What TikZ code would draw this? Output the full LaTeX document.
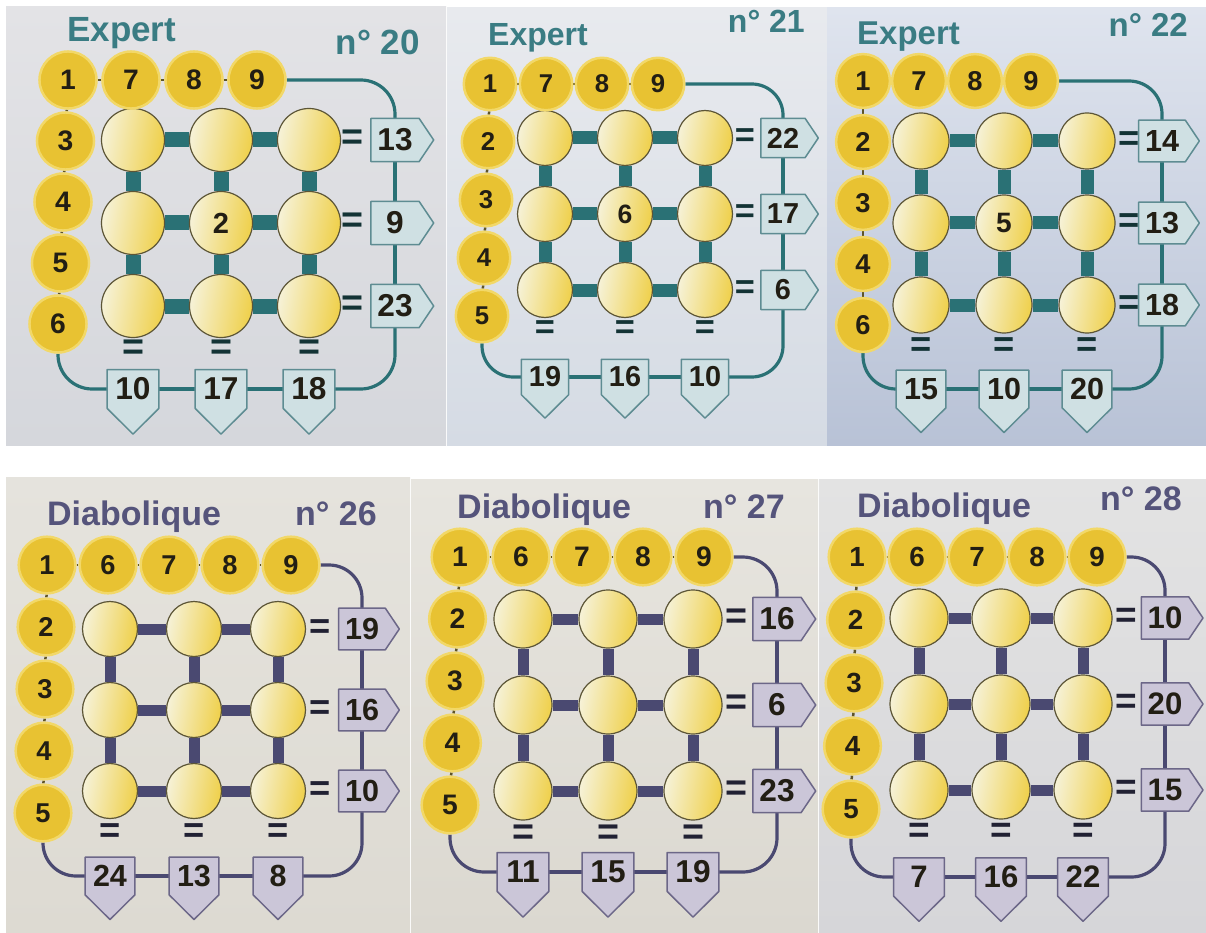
\documentclass[tikz,border=0pt]{standalone}
\usepackage{fontspec}
\setmainfont{Liberation Sans}
\usetikzlibrary{calc}
\pgfdeclarelayer{bgl}
\pgfdeclarelayer{back}
\pgfdeclarelayer{mid}
\pgfsetlayers{bgl,back,mid,main}

\definecolor{exdark}{HTML}{2A7175}
\definecolor{extitle}{HTML}{3A7C83}
\definecolor{exboxf}{HTML}{CFE0E3}
\definecolor{exboxd}{HTML}{5E8C92}
\definecolor{didark}{HTML}{4A4971}
\definecolor{dititle}{HTML}{55547B}
\definecolor{diboxf}{HTML}{CBC6D8}
\definecolor{diboxd}{HTML}{6C6788}
\definecolor{gridpale}{HTML}{F6F2D8}
\definecolor{gridyel}{HTML}{EFD04A}
\definecolor{gridedge}{HTML}{5C5536}
\definecolor{goldc}{HTML}{E8C232}
\definecolor{goldrim}{HTML}{F2D868}
\definecolor{numtxt}{HTML}{221E14}
\definecolor{linkc}{HTML}{5E5428}
\definecolor{bgAa}{HTML}{E3E3E6}\definecolor{bgAb}{HTML}{D5D7DC}
\definecolor{bgBa}{HTML}{E8EAEE}\definecolor{bgBb}{HTML}{D5DBE4}
\definecolor{bgCa}{HTML}{DFE4EE}\definecolor{bgCb}{HTML}{B8C2D6}
\definecolor{bgDa}{HTML}{E5E3DD}\definecolor{bgDb}{HTML}{DDDAD2}
\definecolor{bgEa}{HTML}{E7E5DF}\definecolor{bgEb}{HTML}{DBD8D0}
\definecolor{bgFa}{HTML}{E3E3E3}\definecolor{bgFb}{HTML}{D6D6D9}

\def\pzdef#1{\expandafter\pzdefi\csname pz#1\endcsname{#1}}
\def\pzdefi#1#2{\pgfkeys{/pz/#2/.store in=#1}}
\pzdef{id}\pzdef{xa}\pzdef{ya}\pzdef{xb}\pzdef{yb}\pzdef{bgA}\pzdef{bgB}
\pzdef{dark}\pzdef{tc}\pzdef{boxf}\pzdef{boxd}\pzdef{title}\pzdef{num}
\pzdef{tx}\pzdef{ty}\pzdef{nx}\pzdef{ny}\pzdef{tfs}\pzdef{cx}\pzdef{cy}
\pzdef{gx}\pzdef{gy}\pzdef{gr}\pzdef{ox}\pzdef{oy}\pzdef{dx}\pzdef{dy}
\pzdef{top}\pzdef{left}\pzdef{right}\pzdef{bottom}\pzdef{rbx}\pzdef{bby}
\pzdef{center}\pzdef{barw}\pzdef{ls}

\tikzset{
 gridc/.style={circle, draw=gridedge, line width=1.2pt, left color=gridpale, right color=gridyel, shading angle=80, inner sep=0pt},
 numc/.style={circle, fill=goldc, draw=goldrim, line width=2.5pt, inner sep=0pt, text=numtxt},
 numt/.style={inner sep=0pt, text=numtxt},
 boxn/.style={rectangle, inner sep=0pt, text=numtxt},
 eqs/.style={inner sep=0pt},
 gbar/.style={line cap=butt},
 dotlink/.style={draw=linkc, line width=2.5pt},
 loopline/.style={line width=3.2pt},
 titlef/.style={inner sep=0pt, font=\bfseries\fontsize{\pztfs}{\pztfs}\selectfont},
}

\newcommand\drawpuzzle[1]{%
\begin{scope}
\pgfqkeys{/pz}{ls=0,#1}%
\pgfmathsetmacro\pzS{(\pzgx+\pzgy)/2}%
\pgfmathsetmacro\pzFA{0.33*\pzS}%
\pgfmathsetmacro\pzFB{0.37*\pzS}%
\pgfmathsetmacro\pzFC{0.34*\pzS}%
\pgfmathsetmacro\pzFE{0.44*\pzS}%
\pgfmathsetmacro\pzSD{0.92*(\pzdx+\pzdy)/2}%
\pgfmathsetmacro\pzGD{2*\pzgr}%
\pgfmathsetmacro\pzRW{0.56*\pzS}%
\pgfmathsetmacro\pzRH{0.5*\pzS}%
\pgfmathsetmacro\pzRT{0.17*\pzS}%
\pgfmathsetmacro\pzBW{0.6*\pzS}%
\pgfmathsetmacro\pzBH{0.45*\pzS}%
\pgfmathsetmacro\pzBT{0.3*\pzS}%
\pgfmathsetmacro\pzEQ{0.51*\pzS}%
\pgfmathsetmacro\pzRC{0.4*\pzS}%
% background
\begin{pgfonlayer}{bgl}
 \shade[top color=\pzbgA, bottom color=\pzbgB] (\pzxa,\pzya) rectangle (\pzxb,\pzyb);
\end{pgfonlayer}
% titles
\node[titlef, text=\pztc, anchor=base west] (\pzid title) at (\pztx,\pzty) {\pztitle};
\node[titlef, text=\pztc, anchor=base east] (\pzid no) at (\pznx,\pzny) {\pznum};
% grid
\foreach \i in {1,2,3}{\foreach \j in {1,2,3}{%
 \node[gridc, minimum size=\pzGD pt] (\pzid g\i\j) at ({\pzcx+(\j-2)*\pzgx},{\pzcy+(\i-2)*\pzgy}) {};}}
\node[numt, font=\bfseries\fontsize{\pzFC}{\pzFC}\selectfont] (\pzid c) at (\pzid g22) {\pzcenter};
% number circles
\foreach \v [count=\k] in \pztop {%
 \node[numc, minimum size=\pzSD pt, font=\bfseries\fontsize{\pzFA}{\pzFA}\selectfont] (\pzid t\k) at ({\pzox+(\k-1)*\pzdx},\pzoy) {\v};
 \xdef\pzNT{\k}}
\foreach \v [count=\k] in \pzleft {%
 \node[numc, minimum size=\pzSD pt, font=\bfseries\fontsize{\pzFA}{\pzFA}\selectfont] (\pzid l\k) at ({\pzox+\k*\pzls},{\pzoy+\k*\pzdy}) {\v};}
% boxes and equal signs
\foreach \v [count=\k] in \pzright {%
 \node[boxn, minimum width=\pzRW pt, minimum height=\pzRH pt, font=\bfseries\fontsize{\pzFB}{\pzFB}\selectfont] (\pzid r\k) at (\pzrbx,{\pzcy+(\k-2)*\pzgy}) {\v};
 \node[eqs, text=\pzdark!45!black, font=\bfseries\fontsize{\pzFE}{\pzFE}\selectfont] (\pzid re\k) at ({\pzcx+\pzgx+\pzEQ},{\pzcy+(\k-2)*\pzgy}) {=};}
\foreach \v [count=\k] in \pzbottom {%
 \node[boxn, minimum width=\pzBW pt, minimum height=\pzBH pt, font=\bfseries\fontsize{\pzFB}{\pzFB}\selectfont] (\pzid b\k) at ({\pzcx+(\k-2)*\pzgx},\pzbby) {\v};
 \node[eqs, text=\pzdark!45!black, font=\bfseries\fontsize{\pzFE}{\pzFE}\selectfont] (\pzid be\k) at ({\pzcx+(\k-2)*\pzgx},{\pzcy+\pzgy+\pzEQ}) {=};}
% pentagon outlines
\begin{pgfonlayer}{mid}
 \foreach \k in {1,2,3}{%
  \filldraw[fill=\pzboxf, draw=\pzboxd, line width=1.5pt, line join=round] (\pzid r\k.north west) -- (\pzid r\k.north east) -- ([xshift=\pzRT pt]\pzid r\k.east) -- (\pzid r\k.south east) -- (\pzid r\k.south west) -- cycle;
  \filldraw[fill=\pzboxf, draw=\pzboxd, line width=1.5pt, line join=round] (\pzid b\k.north west) -- (\pzid b\k.north east) -- (\pzid b\k.south east) -- ([yshift=-\pzBT pt]\pzid b\k.south) -- (\pzid b\k.south west) -- cycle;}
\end{pgfonlayer}
% connectors
\pgfmathtruncatemacro\pzNTm{\pzNT-1}%
\begin{pgfonlayer}{back}
 \foreach \i in {1,2,3}{\foreach \j/\jn in {1/2,2/3}{%
  \draw[gbar, draw=\pzdark, line width=\pzbarw pt] (\pzid g\i\j) -- (\pzid g\i\jn);
  \draw[gbar, draw=\pzdark, line width=\pzbarw pt] (\pzid g\j\i) -- (\pzid g\jn\i);}}
 \foreach \k [evaluate=\k as \kn using int(\k+1)] in {1,...,\pzNTm}{%
  \draw[dotlink] (\pzid t\k) -- (\pzid t\kn);}
 \draw[dotlink] (\pzid t1) -- (\pzid l1);
 \draw[dotlink] (\pzid l1) -- (\pzid l2);
 \draw[dotlink] (\pzid l2) -- (\pzid l3);
 \draw[dotlink] (\pzid l3) -- (\pzid l4);
 \draw[loopline, draw=\pzdark, rounded corners=\pzRC pt] (\pzid t\pzNT.east) -| (\pzid r1.north);
 \draw[loopline, draw=\pzdark] (\pzid r1.south) -- (\pzid r2.north);
 \draw[loopline, draw=\pzdark] (\pzid r2.south) -- (\pzid r3.north);
 \draw[loopline, draw=\pzdark, rounded corners=\pzRC pt] (\pzid r3.south) |- (\pzid b3.east);
 \draw[loopline, draw=\pzdark] (\pzid b3.west) -- (\pzid b2.east);
 \draw[loopline, draw=\pzdark] (\pzid b2.west) -- (\pzid b1.east);
 \draw[loopline, draw=\pzdark, rounded corners=\pzRC pt] (\pzid b1.west) -| (\pzid l4.south);
\end{pgfonlayer}
\end{scope}}

\begin{document}
\begin{tikzpicture}[x=1pt,y=-1pt]
\useasboundingbox (0,0) rectangle (1206,933);
\begin{pgfonlayer}{bgl}
\fill[white] (0,0) rectangle (1206,933);
\end{pgfonlayer}

\drawpuzzle{id=A, xa=6, ya=7, xb=446, yb=445, bgA=bgAa, bgB=bgAb, dark=exdark, tc=extitle, boxf=exboxf, boxd=exboxd,
 title=Expert, num={n° 20}, tx=67, ty=42, nx=420, ny=55, tfs=35, cx=221, cy=223, gx=88, gy=83, gr=31.5,
 ox=68, oy=80, dx=63, dy=61, ls=-2.5, top={1,7,8,9}, left={3,4,5,6}, right={13,9,23}, bottom={10,17,18},
 rbx=395, bby=389, center=2, barw=15}

\drawpuzzle{id=B, xa=447, ya=8, xb=827, yb=445, bgA=bgBa, bgB=bgBb, dark=exdark, tc=extitle, boxf=exboxf, boxd=exboxd,
 title=Expert, num={n° 21}, tx=488, ty=46, nx=805, ny=33, tfs=32, cx=625, cy=214, gx=80, gy=76, gr=27.5,
 ox=490, oy=84, dx=56, dy=58, ls=-2, top={1,7,8,9}, left={2,3,4,5}, right={22,17,6}, bottom={19,16,10},
 rbx=783, bby=377, center=6, barw=13}

\drawpuzzle{id=C, xa=827, ya=8, xb=1206, yb=445, bgA=bgCa, bgB=bgCb, dark=exdark, tc=extitle, boxf=exboxf, boxd=exboxd,
 title=Expert, num={n° 22}, tx=857, ty=45, nx=1188, ny=37, tfs=33, cx=1004, cy=223, gx=83, gy=82, gr=28,
 ox=863, oy=81, dx=56, dy=61, ls=0, top={1,7,8,9}, left={2,3,4,6}, right={14,13,18}, bottom={15,10,20},
 rbx=1162, bby=389, center=5, barw=13}

\drawpuzzle{id=D, xa=6, ya=477, xb=410, yb=933, bgA=bgDa, bgB=bgDb, dark=didark, tc=dititle, boxf=diboxf, boxd=diboxd,
 title=Diabolique, num={n° 26}, tx=47, ty=525, nx=377, ny=525, tfs=34, cx=194, cy=710, gx=84, gy=81, gr=27.5,
 ox=47, oy=565, dx=61, dy=62, ls=-1, top={1,6,7,8,9}, left={2,3,4,5}, right={19,16,10}, bottom={24,13,8},
 rbx=362, bby=876, center=, barw=11}

\drawpuzzle{id=E, xa=411, ya=479, xb=818, yb=933, bgA=bgEa, bgB=bgEb, dark=didark, tc=dititle, boxf=diboxf, boxd=diboxd,
 title=Diabolique, num={n° 27}, tx=457, ty=518, nx=785, ny=518, tfs=34, cx=608, cy=705, gx=85, gy=86, gr=29,
 ox=460, oy=557, dx=61, dy=62, ls=-2.5, top={1,6,7,8,9}, left={2,3,4,5}, right={16,6,23}, bottom={11,15,19},
 rbx=777, bby=872, center=, barw=11}

\drawpuzzle{id=F, xa=819, ya=479, xb=1206, yb=933, bgA=bgFa, bgB=bgFb, dark=didark, tc=dititle, boxf=diboxf, boxd=diboxd,
 title=Diabolique, num={n° 28}, tx=857, ty=517, nx=1182, ny=510, tfs=34, cx=1001, cy=704, gx=82, gy=86, gr=29,
 ox=857, oy=557, dx=60, dy=63, ls=-1.5, top={1,6,7,8,9}, left={2,3,4,5}, right={10,20,15}, bottom={7,16,22},
 rbx=1165, bby=877, center=, barw=11}
\end{tikzpicture}
\end{document}
